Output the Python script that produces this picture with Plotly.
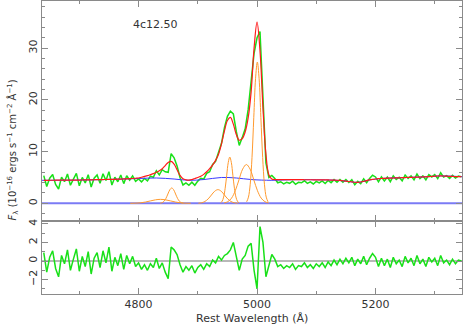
import plotly.graph_objects as go
from plotly.subplots import make_subplots

# ---------------- data ----------------
wave = list(range(4640, 5346, 5))  # 5 A sampling grid (rest wavelength)

flux = [5.35, 3.25, 4.86, 5.56, 3.67, 2.77, 5.08, 4.18, 5.68, 3.49,
        4.69, 5.80, 3.40, 5.01, 3.93, 5.54, 3.15, 4.86, 5.48, 3.89,
        5.70, 4.41, 6.13, 3.54, 5.05, 4.17, 5.49, 3.81, 5.33, 4.46,
        5.30, 4.25, 4.70, 4.15, 4.80, 4.35, 5.25, 5.05, 6.30, 5.50,
        6.50, 6.10, 6.00, 9.60, 8.80, 7.20, 5.00, 3.55, 3.95, 3.50,
        4.10, 3.50, 4.30, 4.85, 4.70, 5.80, 6.10, 7.50, 8.10, 10.0,
        11.6, 14.6, 16.8, 17.8, 17.3, 13.9, 11.2, 12.7, 14.4, 18.1,
        23.4, 29.0, 32.0, 33.2, 20.5, 7.80, 5.00, 5.40, 4.80, 3.98,
        4.17, 3.77, 4.07, 3.87, 4.27, 3.67, 4.07, 3.97, 4.36, 3.86,
        4.16, 3.75, 4.25, 3.95, 4.34, 3.83, 4.42, 4.00, 4.58, 4.06,
        4.62, 4.07, 4.60, 4.02, 4.55, 3.58, 4.25, 3.82, 4.75, 4.00,
        4.82, 5.42, 5.10, 4.16, 5.10, 4.33, 5.06, 4.18, 5.30, 4.62,
        5.04, 4.36, 5.48, 4.80, 5.32, 4.54, 5.66, 4.78, 5.30, 4.53,
        5.56, 5.10, 5.54, 4.78, 5.90, 5.08, 5.35, 4.82, 5.40, 4.88,
        5.26, 5.15]

fit = [4.45, 4.45, 4.46, 4.46, 4.47, 4.47, 4.48, 4.48, 4.48, 4.49,
       4.49, 4.50, 4.50, 4.51, 4.53, 4.54, 4.55, 4.56, 4.58, 4.59,
       4.60, 4.61, 4.63, 4.64, 4.65, 4.67, 4.69, 4.71, 4.73, 4.76,
       4.80, 4.85, 4.90, 5.05, 5.20, 5.35, 5.55, 5.75, 6.00, 6.30,
       6.70, 7.30, 7.90, 8.10, 7.60, 6.50, 5.40, 4.75, 4.55, 4.50,
       4.60, 4.80, 5.00, 5.25, 5.60, 6.10, 6.70, 7.40, 8.30, 9.50,
       11.5, 14.0, 16.0, 16.6, 15.3, 13.3, 12.2, 12.5, 13.8, 16.5,
       21.5, 30.0, 35.0, 29.5, 18.5, 9.50, 5.50, 4.70, 4.60, 4.58,
       4.57, 4.57, 4.57, 4.57, 4.57, 4.57, 4.57, 4.57, 4.56, 4.56,
       4.56, 4.55, 4.55, 4.55, 4.54, 4.53, 4.52, 4.50, 4.48, 4.46,
       4.42, 4.37, 4.30, 4.22, 4.15, 4.08, 4.05, 4.12, 4.25, 4.40,
       4.52, 4.62, 4.70, 4.76, 4.80, 4.83, 4.86, 4.88, 4.90, 4.92,
       4.94, 4.96, 4.98, 5.00, 5.02, 5.04, 5.06, 5.08, 5.10, 5.13,
       5.16, 5.20, 5.24, 5.28, 5.30, 5.28, 5.25, 5.22, 5.20, 5.18,
       5.16, 5.15]

resid = [0.9, -1.2, 0.4, 1.1, -0.8, -1.7, 0.6, -0.3, 1.2, -1.0,
         0.2, 1.3, -1.1, 0.5, -0.6, 1.0, -1.4, 0.3, 0.9, -0.7,
         1.1, -0.2, 1.5, -1.1, 0.4, -0.5, 0.8, -0.9, 0.6, -0.3,
         0.5, -0.6, -0.2, -0.9, -0.4, -1.0, -0.3, -0.7, 0.3, -0.8,
         -0.2, -1.2, -1.9, 1.5, 1.2, 0.7, -0.4, -1.2, -0.6, -1.0,
         -0.5, -1.3, -0.7, -0.4, -0.9, -0.3, -0.6, 0.1, -0.2, 0.5,
         0.1, 0.6, 0.8, 1.2, 2.0, 0.6, -1.0, 0.2, 0.6, 1.6,
         1.9, -1.0, -3.0, 3.7, 2.0, -1.7, -0.5, 0.7, 0.2, -0.6,
         -0.4, -0.8, -0.5, -0.7, -0.3, -0.9, -0.5, -0.6, -0.2, -0.7,
         -0.4, -0.8, -0.3, -0.6, -0.2, -0.7, -0.1, -0.5, 0.1, -0.4,
         0.2, -0.3, 0.3, -0.2, 0.4, -0.5, 0.2, -0.3, 0.5, -0.4,
         0.3, 0.8, 0.4, -0.6, 0.3, -0.5, 0.2, -0.7, 0.4, -0.3,
         0.1, -0.6, 0.5, -0.2, 0.3, -0.5, 0.6, -0.3, 0.2, -0.6,
         0.4, -0.1, 0.3, -0.5, 0.6, -0.2, 0.1, -0.4, 0.2, -0.3,
         0.1, 0.0]

cont_wave = [4637, 4700, 4760, 4800, 4830, 4860, 4885, 4910, 4940, 4965,
             4990, 5025, 5060, 5100, 5130, 5150, 5170, 5190, 5210, 5250,
             5290, 5310, 5346]
cont_flux = [4.45, 4.50, 4.65, 4.80, 4.90, 4.70, 4.45, 4.60, 5.00, 4.90,
             4.60, 4.45, 4.57, 4.55, 4.48, 4.30, 4.05, 4.52, 4.80, 4.98,
             5.16, 5.30, 5.15]

# Gaussian-like line components (orange), read as sampled points
hb_broad_w = [4786, 4794.5, 4803, 4811.5, 4820, 4828.5, 4837, 4845.5, 4854, 4862.5, 4871, 4879.5, 4888]
hb_broad_f = [0.01, 0.03, 0.10, 0.25, 0.47, 0.68, 0.77, 0.68, 0.47, 0.25, 0.10, 0.03, 0.01]
hb_narrow_w = [4836.5, 4839.75, 4843, 4846.25, 4849.5, 4852.75, 4856, 4859.25, 4862.5, 4865.75, 4869, 4872.25, 4875.5]
hb_narrow_f = [0.03, 0.13, 0.40, 0.97, 1.80, 2.62, 2.97, 2.62, 1.80, 0.97, 0.40, 0.13, 0.03]
o3a_wing_w = [4901, 4906.5, 4912, 4917.5, 4923, 4928.5, 4934, 4939.5, 4945, 4950.5, 4956, 4961.5, 4967]
o3a_wing_f = [0.03, 0.12, 0.36, 0.86, 1.61, 2.34, 2.65, 2.34, 1.61, 0.86, 0.36, 0.12, 0.03]
o3a_core_w = [4938.4, 4941, 4943.6, 4946.2, 4948.8, 4951.4, 4954, 4956.6, 4959.2, 4961.8, 4964.4, 4967, 4969.6]
o3a_core_f = [0.10, 0.39, 1.21, 2.91, 5.43, 7.89, 8.95, 7.89, 5.43, 2.91, 1.21, 0.39, 0.10]
o3b_wing_w = [4944.5, 4950.75, 4957, 4963.25, 4969.5, 4975.75, 4982, 4988.25, 4994.5, 5000.75, 5007, 5013.25, 5019.5]
o3b_wing_f = [0.08, 0.33, 1.01, 2.44, 4.55, 6.62, 7.50, 6.62, 4.55, 2.44, 1.01, 0.33, 0.08]
o3b_core_w = [4982.5, 4985.5, 4988.5, 4991.5, 4994.5, 4997.5, 5000.5, 5003.5, 5006.5, 5009.5, 5012.5, 5015.5, 5018.5]
o3b_core_f = [0.30, 1.20, 3.69, 8.87, 16.56, 24.08, 27.3, 24.08, 16.56, 8.87, 3.69, 1.20, 0.30]

components = [(hb_broad_w, hb_broad_f), (hb_narrow_w, hb_narrow_f),
              (o3a_wing_w, o3a_wing_f), (o3a_core_w, o3a_core_f),
              (o3b_wing_w, o3b_wing_f), (o3b_core_w, o3b_core_f)]

x_ticks = [4800, 5000, 5200]
y_ticks_top = [0, 10, 20, 30]
y_ticks_bot = [-2, 0, 2, 4]

# ---------------- style ----------------
GREEN = "#19e019"
RED = "#ff1a1a"
BLUE = "#3a3aff"
ORANGE = "#ff9a2e"
FRAME = "#8a8a8a"
TXT = "#333333"
FONT = "DejaVu Sans"

fig = make_subplots(rows=2, cols=1, shared_xaxes=True, vertical_spacing=0,
                    row_heights=[0.751, 0.249])

fig.add_trace(go.Scatter(x=wave, y=flux, mode="lines",
                         line=dict(color=GREEN, width=1.5),
                         showlegend=False), row=1, col=1)
fig.add_trace(go.Scatter(x=cont_wave, y=cont_flux, mode="lines",
                         line=dict(color=BLUE, width=1, shape="spline"),
                         showlegend=False), row=1, col=1)
for cw, cf in components:
    fig.add_trace(go.Scatter(x=cw, y=cf, mode="lines",
                             line=dict(color=ORANGE, width=1, shape="spline"),
                             showlegend=False), row=1, col=1)
fig.add_trace(go.Scatter(x=wave, y=fit, mode="lines",
                         line=dict(color=RED, width=1.2, shape="spline"),
                         showlegend=False), row=1, col=1)

fig.add_trace(go.Scatter(x=wave, y=resid, mode="lines",
                         line=dict(color=GREEN, width=1.5),
                         showlegend=False), row=2, col=1)

# zero lines (added after traces so the subplots are not empty)
fig.add_hline(y=0, row=1, col=1, line=dict(color="#7b7bf5", width=2), layer="below")
fig.add_hline(y=0, row=2, col=1, line=dict(color="#a0a0a0", width=1.5), layer="below")

axis_common = dict(showline=True, linecolor=FRAME, linewidth=1, mirror="allticks",
                   ticks="inside", tickcolor=FRAME, showgrid=False, zeroline=False,
                   automargin=False,
                   tickfont=dict(family=FONT, size=11, color=TXT))

fig.update_xaxes(range=[4637, 5346], tickvals=x_ticks, ticklen=6,
                 minor=dict(dtick=100, tick0=4600, ticklen=3, ticks="inside", tickcolor=FRAME),
                 **axis_common)
fig.update_xaxes(showticklabels=False, row=1, col=1)
fig.update_xaxes(showticklabels=True, row=2, col=1)

fig.update_yaxes(range=[-3.42, 39.1], tickvals=y_ticks_top, ticklen=6, tickangle=-90,
                 minor=dict(dtick=2, tick0=0, ticklen=3, ticks="inside", tickcolor=FRAME),
                 row=1, col=1, **axis_common)
fig.update_yaxes(range=[-3.55, 4.3], tickvals=y_ticks_bot, ticklen=6, tickangle=-90,
                 minor=dict(dtick=1, tick0=0, ticklen=3, ticks="inside", tickcolor=FRAME),
                 row=2, col=1, **axis_common)

fig.add_annotation(text="4c12.50", xref="paper", yref="paper", x=0.212, y=0.949,
                   showarrow=False, font=dict(family=FONT, size=11, color=TXT))
fig.add_annotation(text="Rest Wavelength (Å)", xref="paper", yref="paper", x=0.5, y=-0.085,
                   yanchor="middle", showarrow=False, font=dict(family=FONT, size=11, color=TXT))
fig.add_annotation(text="<i>F</i><sub>λ</sub> (10<sup>−16</sup> ergs s<sup>−1</sup> cm<sup>−2</sup> Å<sup>−1</sup>)",
                   xref="paper", yref="paper", x=-0.069, y=0.49, textangle=-90,
                   xanchor="center", yanchor="middle",
                   showarrow=False, font=dict(family=FONT, size=10, color=TXT))

fig.update_layout(width=463, height=327, margin=dict(l=42, r=1, t=1, b=33),
                  paper_bgcolor="white", plot_bgcolor="white")

fig.write_html("out.html", config={"displayModeBar": False},
               post_script="document.body.style.margin='0px';")
